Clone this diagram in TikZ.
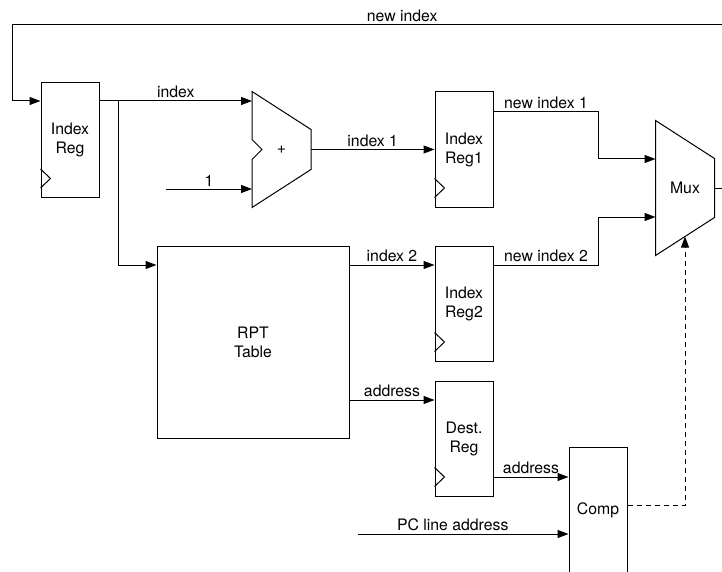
\documentclass[tikz,border=0pt]{standalone}
\usepackage{fontspec}
\setmainfont{TeX Gyre Heros}
\usetikzlibrary{arrows.meta,calc}

\begin{document}
\begin{tikzpicture}[
    x=1pt, y=-1pt,
    font=\fontsize{15.8}{19}\selectfont,
    line width=1pt,
    reg/.style={draw, align=center, inner sep=0pt, minimum width=58pt, minimum height=115pt},
    unit/.style={inner sep=0pt, minimum width=58pt, minimum height=115pt},
    arr/.style={-{Triangle[length=11pt,width=8pt]}},
    sig/.style={dash pattern=on 5pt off 4pt},
    lbl/.style={above, inner sep=2.5pt}
]
\useasboundingbox (0,0) rectangle (722,572);

% blocks
\node[reg] (idx) at (70,140) {Index\\Reg};
\node[unit] (add) at (281.5,149.5) {+};
\node[reg] (reg1) at (464,149.5) {Index\\Reg1};
\node[reg, minimum width=192pt, minimum height=192pt] (rpt) at (253,342) {RPT\\Table};
\node[reg] (reg2) at (464,303.5) {Index\\Reg2};
\node[reg] (dest) at (464,438.5) {Dest.\\Reg};
\node[reg, minimum height=126pt] (comp) at (598,510) {Comp};
\node[unit, minimum height=134pt] (mux) at (685,188) {Mux};

% adder and mux outlines
\draw (add.north west) -- ([yshift=-38pt]add.north east) -- ([yshift=38pt]add.south east)
  -- (add.south west) -- ([yshift=-10pt]add.west) -- ([xshift=10pt]add.west)
  -- ([yshift=10pt]add.west) -- cycle;
\draw (mux.north west) -- ([yshift=-38pt]mux.north east) -- ([yshift=38pt]mux.south east)
  -- (mux.south west) -- cycle;

% clock inputs
\foreach \r in {idx,reg1,reg2,dest}
  \draw ([yshift=10pt]\r.south west) -- ([xshift=10pt,yshift=19.5pt]\r.south west)
    -- ([yshift=29pt]\r.south west);

% rows and free ends
\coordinate (rin) at (0,101);
\coordinate (rn1) at (0,111.5);
\coordinate (rm1) at (0,159);
\coordinate (rm2) at (0,217);
\coordinate (ri2) at (0,265);
\coordinate (radr) at (0,400);
\coordinate (rdst) at (0,477);
\coordinate (rsel) at (0,505);
\coordinate (split) at (118,101);
\coordinate (one) at (166,189);
\coordinate (pc) at (358,534);
\coordinate (fbl) at (12,25);
\coordinate (sel) at ($(mux.south west)!0.5!([yshift=38pt]mux.south east)$);

% wires
\draw[arr] (idx.east |- rin) -- node[lbl]{index} (add.west |- rin);
\draw[arr] (split) |- (rpt.west |- ri2);
\draw[arr] (one) -- node[lbl]{1} (add.west |- one);
\draw[arr] (add.east) -- node[lbl]{index 1} (reg1.west);
\draw[arr] (reg1.east |- rn1) -- node[lbl]{new index 1} ++(105,0) |- (mux.west |- rm1);
\draw[arr] (rpt.east |- ri2) -- node[lbl]{index 2} (reg2.west |- ri2);
\draw[arr] (reg2.east |- ri2) -- node[lbl]{new index 2} ++(105,0) |- (mux.west |- rm2);
\draw[arr] (rpt.east |- radr) -- node[lbl]{address} (dest.west |- radr);
\draw[arr] (dest.east |- rdst) -- node[lbl]{address} (comp.west |- rdst);
\draw[arr] (pc) -- node[lbl, pos=0.45]{PC line address} (comp.west |- pc);
\draw[arr, sig] (comp.east |- rsel) -| (sel);
\draw[arr] (mux.east) -- ++(20,0) |- node[lbl, pos=0.73]{new index} (fbl) |- (idx.west |- rin);
\end{tikzpicture}
\end{document}
